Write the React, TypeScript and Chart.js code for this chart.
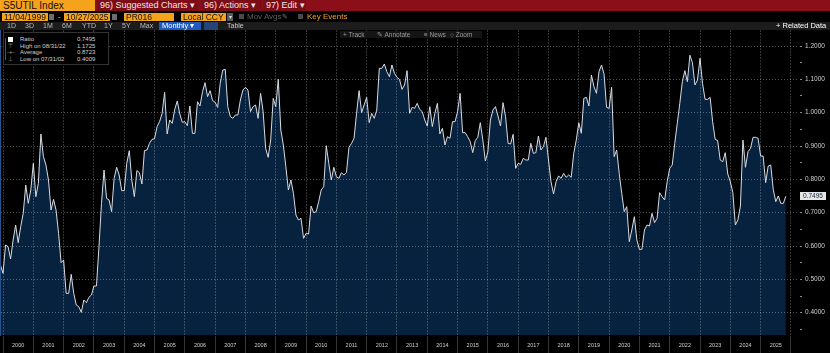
import React, { useEffect, useRef } from "react";
import { Chart, registerables } from "chart.js";

Chart.register(...registerables);

// Monthly observations, first one = Nov 1999, plotted at month end
const startYear = 1999;
const startMonth = 11;

const ratio1999to2004 = [
  0.543, 0.518,
  0.603, 0.598, 0.561, 0.618, 0.663, 0.61, 0.658, 0.698, 0.783, 0.728, 0.768, 0.848,
  0.748, 0.788, 0.936, 0.868, 0.843, 0.798, 0.708, 0.74, 0.708, 0.638, 0.55, 0.558,
  0.458, 0.458, 0.515, 0.458, 0.423, 0.418, 0.4009, 0.438, 0.43, 0.446, 0.453, 0.48,
  0.48, 0.598, 0.728, 0.828, 0.743, 0.738, 0.703, 0.803, 0.836, 0.813, 0.766, 0.766,
  0.848, 0.886, 0.798, 0.748, 0.826, 0.82, 0.786, 0.886, 0.888, 0.908, 0.92, 0.922,
];
const ratio2005to2009 = [
  0.958, 0.973, 0.998, 1.061, 0.936, 0.978, 0.968, 1.01, 1.035, 0.996, 0.971, 0.973,
  0.961, 1.02, 0.938, 0.938, 1.033, 1.02, 1.063, 1.09, 1.048, 1.066, 1.036, 1.031,
  1.016, 1.088, 1.128, 1.13, 1.018, 0.988, 0.983, 0.993, 0.993, 1.038, 1.068, 1.076,
  1.068, 1.003, 1.018, 1.023, 0.983, 1.058, 1.003, 0.893, 0.866, 0.918, 1.043, 1.018,
  1.1, 0.948, 0.903, 0.838, 0.768, 0.798, 0.758, 0.693, 0.678, 0.683, 0.623, 0.638,
];
const ratio2010to2014 = [
  0.636, 0.72, 0.7, 0.703, 0.733, 0.768, 0.778, 0.901, 0.848, 0.798, 0.836, 0.808,
  0.803, 0.82, 0.813, 0.821, 0.896, 0.908, 0.923, 0.998, 1.066, 1.0, 1.023, 1.046,
  0.97, 0.998, 0.983, 1.008, 1.133, 1.133, 1.146, 1.123, 1.108, 1.143, 1.118, 1.106,
  1.1, 1.07, 1.083, 1.126, 0.998, 1.016, 1.013, 1.028, 1.01, 1.003, 0.978, 0.96,
  1.018, 0.958, 0.998, 1.028, 0.936, 0.953, 0.903, 0.928, 0.923, 0.973, 0.973, 1.003,
];
const ratio2015to2019 = [
  1.058, 0.94, 0.94, 0.928, 0.913, 0.88, 0.916, 0.926, 0.97, 0.918, 0.855, 0.883,
  0.978, 1.008, 1.018, 0.99, 0.96, 1.03, 0.988, 0.908, 0.906, 0.935, 0.833, 0.848,
  0.845, 0.863, 0.858, 0.858, 0.908, 0.878, 0.88, 0.93, 0.888, 0.898, 0.926, 0.858,
  0.793, 0.756, 0.793, 0.81, 0.803, 0.818, 0.806, 0.813, 0.806, 0.878, 0.918, 0.97,
  0.938, 1.043, 1.046, 1.02, 1.113, 1.078, 1.058, 1.123, 1.143, 1.116, 1.016, 1.013,
];
const ratio2020to2025 = [
  1.076, 0.868, 0.888, 0.818, 0.758, 0.703, 0.718, 0.613, 0.648, 0.688, 0.618, 0.59,
  0.59, 0.648, 0.663, 0.66, 0.698, 0.67, 0.683, 0.76, 0.748, 0.738, 0.793, 0.833,
  0.843, 0.908, 0.968, 1.028, 1.093, 1.126, 1.093, 1.1725, 1.15, 1.083, 1.098, 1.163,
  1.088, 1.04, 1.04, 1.046, 0.973, 0.92, 0.916, 0.858, 0.853, 0.88, 0.816, 0.793,
  0.76, 0.663, 0.678, 0.72, 0.918, 0.836, 0.883, 0.893, 0.926, 0.926, 0.923, 0.87,
  0.87, 0.79, 0.84, 0.843, 0.77, 0.733, 0.75, 0.728, 0.728, 0.7495,
];

const yearLabels = [
  "2000", "2001", "2002", "2003", "2004", "2005", "2006", "2007", "2008", "2009",
  "2010", "2011", "2012", "2013", "2014", "2015", "2016", "2017", "2018", "2019",
  "2020", "2021", "2022", "2023", "2024", "2025",
];
const yMajorTicks = [0.4, 0.5, 0.6, 0.7, 0.8, 0.9, 1.0, 1.1, 1.2];
const yMinorTicks = [0.35, 0.45, 0.55, 0.65, 0.75, 0.85, 0.95, 1.05, 1.15];

const legendLabels = ["Ratio", "High on 08/31/22", "Average", "Low on 07/31/02"];
const legendValues = ["0.7495", "1.1725", "0.8723", "0.4009"];

const rangeButtons = ["1D", "3D", "1M", "6M", "YTD", "1Y", "5Y", "Max"];
const rangeButtonX = [7, 25, 43, 62, 82, 104, 122, 140];

const ratioValues = [
  ...ratio1999to2004,
  ...ratio2005to2009,
  ...ratio2010to2014,
  ...ratio2015to2019,
  ...ratio2020to2025,
];

const FONT = '"Liberation Sans", Arial, sans-serif';

type BoxProps = {
  l: number; t: number; w: number; h: number;
  bg?: string; c?: string; fs?: number; pl?: number;
  align?: "left" | "center" | "right";
  children?: React.ReactNode; style?: React.CSSProperties;
};
function Box({ l, t, w, h, bg, c, fs = 8, pl = 0, align = "left", children, style }: BoxProps) {
  return (
    <div
      style={{
        position: "absolute", left: l, top: t, width: w, height: h,
        background: bg, color: c, fontSize: fs, lineHeight: h + "px",
        paddingLeft: pl, boxSizing: "border-box", textAlign: align,
        whiteSpace: "nowrap", overflow: "hidden", fontFamily: FONT, ...style,
      }}
    >
      {children}
    </div>
  );
}

export default function App() {
  const canvasRef = useRef<HTMLCanvasElement>(null);

  useEffect(() => {
    document.body.style.margin = "0";
    const canvas = canvasRef.current!;
    const firstX = (startYear - 2000) * 12 + (startMonth - 1) + 1; // month-end position
    const points = ratioValues.map((v, i) => ({ x: firstX + i, y: v }));
    const yearBoundaries = yearLabels.map((_, i) => i * 12).concat([yearLabels.length * 12]);
    const yearMids = yearLabels.map((_, i) => i * 12 + 6);
    const isBoundary = (v: number) => Math.abs(v % 12) < 1e-6;
    const isMajor = (v: number) => yMajorTicks.some((m) => Math.abs(m - v) < 1e-6);

    const lastValuePlugin = {
      id: "lastValue",
      afterDraw(chart: any) {
        const { ctx, scales, chartArea } = chart;
        const y = scales.y;
        const v = ratioValues[ratioValues.length - 1];
        const py = Math.round(y.getPixelForValue(v));
        ctx.save();
        ctx.strokeStyle = "#24538f";
        ctx.lineWidth = 1;
        ctx.beginPath();
        ctx.moveTo(0.5, chartArea.top);
        ctx.lineTo(0.5, chartArea.bottom);
        ctx.stroke();
        ctx.fillStyle = "#e6e6e6";
        ctx.fillRect(800, py - 4, 26, 8);
        ctx.fillStyle = "#14243c";
        ctx.font = `6.5px ${FONT}`;
        ctx.textBaseline = "middle";
        ctx.textAlign = "left";
        ctx.fillText(v.toFixed(4), 803, py + 0.5);
        ctx.restore();
      },
    };

    const chart = new Chart(canvas, {
      type: "line",
      data: {
        datasets: [
          {
            label: "Ratio",
            data: points,
            borderColor: "#d8dce2",
            borderWidth: 1,
            backgroundColor: "#06223f",
            fill: "start",
            pointRadius: 0,
            tension: 0,
          },
        ],
      },
      options: {
        animation: false,
        responsive: false,
        maintainAspectRatio: false,
        layout: { padding: { top: 30, left: 1, right: 0, bottom: 0 } },
        plugins: { legend: { display: false }, tooltip: { enabled: false } },
        scales: {
          x: {
            type: "linear",
            position: "bottom",
            min: -0.8,
            max: 315.2,
            afterBuildTicks: (scale: any) => {
              scale.ticks = [...yearBoundaries, ...yearMids]
                .sort((a, b) => a - b)
                .map((v) => ({ value: v }));
            },
            afterFit: (scale: any) => {
              scale.height = 18;
            },
            grid: {
              z: 1,
              drawOnChartArea: true,
              drawTicks: true,
              tickLength: 18,
              color: (ctx: any) =>
                ctx.tick && isBoundary(ctx.tick.value) ? "rgba(255,255,255,0.2)" : "rgba(0,0,0,0)",
              tickColor: (ctx: any) =>
                ctx.tick && isBoundary(ctx.tick.value) ? "#363636" : "rgba(0,0,0,0)",
            },
            border: { display: true, color: "#4a6a92", width: 1, dash: [2, 1] },
            ticks: {
              autoSkip: false,
              maxRotation: 0,
              minRotation: 0,
              padding: -11,
              color: "#cfcfcf",
              font: { family: FONT, size: 5.5 },
              callback: (value: any) => {
                const v = Number(value);
                if (isBoundary(v)) return "";
                return yearLabels[Math.round((v - 6) / 12)] ?? "";
              },
            },
          },
          y: {
            type: "linear",
            position: "right",
            min: 0.333,
            max: 1.248,
            afterBuildTicks: (scale: any) => {
              scale.ticks = [...yMajorTicks, ...yMinorTicks]
                .sort((a, b) => a - b)
                .map((v) => ({ value: v }));
            },
            afterFit: (scale: any) => {
              scale.width = 31;
            },
            grid: {
              z: 1,
              drawTicks: true,
              tickLength: 3,
              color: (ctx: any) =>
                ctx.tick && isMajor(ctx.tick.value) ? "rgba(255,255,255,0.32)" : "rgba(0,0,0,0)",
              tickColor: "#8a8a8a",
            },
            border: { display: true, color: "#7a7a7a", width: 1, dash: [1, 2] },
            ticks: {
              autoSkip: false,
              padding: 3,
              color: "#cfcfcf",
              font: { family: FONT, size: 6.5 },
              callback: (value: any) => {
                const v = Number(value);
                return isMajor(v) ? v.toFixed(4) : "";
              },
            },
          },
        },
      },
      plugins: [lastValuePlugin],
    } as any);

    return () => chart.destroy();
  }, []);

  const orange = "#f5a21c";
  const tabRed = "#7c0c15";
  return (
    <div style={{ position: "fixed", left: 0, top: 0, width: 830, height: 353, background: "#000", overflow: "hidden", fontFamily: FONT }}>
      <canvas ref={canvasRef} width={830} height={353} style={{ position: "absolute", left: 0, top: 0, width: 830, height: 353 }} />

      {/* Row 1 */}
      <Box l={0} t={0} w={830} h={11} bg="#8a0f19" />
      <Box l={0} t={0} w={95} h={11} bg={orange} c="#111" fs={10} pl={3}>S5UTIL Index</Box>
      <Box l={97} t={0} w={102} h={11} bg={tabRed} c="#f2e4e4" fs={9} pl={3}>96) Suggested Charts ▾</Box>
      <Box l={201} t={0} w={61} h={11} bg={tabRed} c="#f2e4e4" fs={9} pl={3}>96) Actions ▾</Box>
      <Box l={263} t={0} w={43} h={11} bg={tabRed} c="#f2e4e4" fs={9} pl={3}>97) Edit ▾</Box>
      <Box l={0} t={11} w={830} h={1} bg="#000" />

      {/* Row 2 */}
      <Box l={2} t={13} w={46} h={8} bg={orange} c="#111" fs={8.5} pl={2}>11/04/1999</Box>
      <Box l={49} t={14} w={5} h={6} bg="#6e6e6e" />
      <Box l={58} t={12} w={5} h={10} c="#cccccc" fs={8}>-</Box>
      <Box l={64} t={13} w={46} h={8} bg={orange} c="#111" fs={8.5} pl={2}>10/27/2025</Box>
      <Box l={112} t={14} w={5} h={6} bg="#6e6e6e" />
      <Box l={124} t={13} w={50} h={8} bg={orange} c="#111" fs={8.5} pl={2}>PR016</Box>
      <Box l={181} t={13} w={45} h={8} bg={orange} c="#111" fs={8.5} pl={2}>Local CCY</Box>
      <Box l={227} t={13} w={6} h={8} bg="#5a5a5a" c="#ddd" fs={6} align="center">▾</Box>
      <Box l={239} t={14} w={5} h={5} bg="#4a4a4a" />
      <Box l={247} t={12} w={36} h={10} c="#5e5e5e" fs={8}>Mov Avgs</Box>
      <Box l={282} t={12} w={7} h={10} c="#7a7a7a" fs={7}>✎</Box>
      <Box l={298} t={14} w={5} h={5} bg="#4a4a4a" />
      <Box l={307} t={12} w={46} h={10} c="#f0a020" fs={8}>Key Events</Box>

      {/* Row 3 */}
      <Box l={0} t={22} w={830} h={8} bg="#1c1c1c" />
      {rangeButtons.map((b, i) => (
        <Box key={b} l={rangeButtonX[i]} t={22} w={16} h={8} c="#bdbdbd" fs={7}>{b}</Box>
      ))}
      <Box l={159} t={22} w={42} h={8} bg="#1f5bbf" c="#fff" fs={7.5} pl={3}>Monthly ▾</Box>
      <Box l={204} t={22} w={14} h={8} bg="#25457a" />
      <Box l={227} t={22} w={22} h={8} c="#cccccc" fs={7}>Table</Box>
      <Box l={776} t={22} w={54} h={8} c="#ffffff" fs={7.5}>+ Related Data</Box>

      {/* Track toolbar */}
      <Box l={340} t={31} w={142} h={7} bg="#151515" />
      <Box l={343} t={31} w={30} h={7} c="#9a9a9a" fs={6.5}>+ Track</Box>
      <Box l={377} t={31} w={40} h={7} c="#9a9a9a" fs={6.5}>✎ Annotate</Box>
      <Box l={424} t={31} w={24} h={7} c="#9a9a9a" fs={6.5}>≡ News</Box>
      <Box l={450} t={31} w={30} h={7} c="#9a9a9a" fs={6.5}>○ Zoom</Box>

      {/* Legend */}
      <div style={{ position: "absolute", left: 3, top: 32, width: 106, height: 33, background: "#000", border: "1px solid #333", boxSizing: "border-box" }} />
      <Box l={5} t={38} w={1} h={22} bg="#555" />
      <Box l={8} t={37} w={5} h={5} bg="#ffffff" />
      <Box l={8} t={42.5} w={8} h={7} c="#aaaaaa" fs={6}>⊤</Box>
      <Box l={7} t={49} w={9} h={7} c="#aaaaaa" fs={6}>-+-</Box>
      <Box l={8} t={55.5} w={8} h={7} c="#aaaaaa" fs={6}>⊥</Box>
      {legendLabels.map((lab, i) => (
        <React.Fragment key={lab}>
          <Box l={20} t={36 + i * 6.6} w={56} h={7} c="#d0d0d0" fs={6}>{lab}</Box>
          <Box l={77} t={36 + i * 6.6} w={28} h={7} c="#d0d0d0" fs={6}>{legendValues[i]}</Box>
        </React.Fragment>
      ))}
    </div>
  );
}
